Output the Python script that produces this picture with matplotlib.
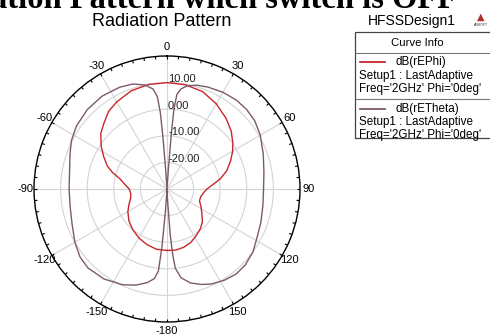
import numpy as np
import matplotlib
matplotlib.use("Agg")
import matplotlib.pyplot as plt
from matplotlib.transforms import offset_copy
from matplotlib.patches import Rectangle
from matplotlib.lines import Line2D

# ---------------- data ----------------
phi_theta_deg = [-180, -170, -160, -150, -140, -130, -120, -112, -105, -98, -90, -83, -78,
                 -73, -69, -63, -57, -50, -44, -37, -30, -20, -10, 0, 10, 20, 30, 40, 48,
                 55, 60, 66, 73, 79, 84, 90, 96, 103, 110, 118, 125, 133, 140, 148, 156,
                 164, 172, 180]
db_rEPhi = [-6.9, -7.0, -7.8, -8.8, -10.0, -11.3, -13.0, -14.6, -15.8, -16.3, -15.8, -13.8, -12.0,
            -8.5, -6.0, -3.3, -0.5, 2.5, 4.2, 6.5, 7.8, 9.3, 9.9, 10.0, 9.8, 9.0, 7.0, 4.6, 2.5,
            0.2, -1.5, -3.8, -6.5, -9.5, -12.4, -15.0, -16.2, -17.0, -17.0, -15.5, -14.0, -11.8, -10.5, -9.3, -8.0,
            -7.2, -6.8, -6.9]

theta_theta_deg = [-180, -177, -176, -175, -174, -172, -168, -162, -155, -145, -135, -128, -120,
                   -110, -100, -90, -80, -70, -63, -55, -45, -35, -25, -18, -12, -8, -6, -5,
                   -4.5, -4, -3, 0, 3, 4, 4.5, 5, 6, 8, 11, 16, 22, 30, 38, 45, 52, 60, 70,
                   80, 90, 100, 110, 118, 126, 134, 141, 148, 155, 160, 166, 171, 174, 175,
                   176, 177, 178, 180]
db_rETheta = [-40, -40, -22, -8, 1, 4, 6, 8, 9.7, 11.3, 12.0, 11.5, 10.0,
              8.0, 7.0, 6.8, 7.2, 8.8, 10.3, 11.5, 12.3, 12.6, 12.2, 11.5, 10.0, 8.0, 5.0, -1.0,
              -10, -22, -40, -40, -40, -22, -8, 0.5, 5.8, 8.0, 9.5, 10.6, 11.3, 12.0, 12.4, 12.3, 11.8, 10.5, 8.5,
              7.0, 6.3, 6.6, 7.5, 8.4, 10.0, 11.0, 11.2, 10.5, 9.4, 8.2, 6.4, 3.8, 0.0, -5,
              -13, -25, -40, -40]

r_ticks = [-20, -10, 0, 10]
r_tick_labels = ["-20.00", "-10.00", "0.00", "10.00"]
angle_ticks = [0, 30, 60, 90, 120, 150, 180, -150, -120, -90, -60, -30]
angle_labels = ["0", "30", "60", "90", "120", "150", "-180", "-150", "-120", "-90", "-60", "-30"]
r_min, r_max = -30, 20

legend_series = ["dB(rEPhi)", "dB(rETheta)"]
legend_setup = "Setup1 : LastAdaptive"
legend_freq = "Freq='2GHz' Phi='0deg'"

# ---------------- styling ----------------
plt.rcParams['font.family'] = ['Liberation Sans', 'DejaVu Sans']
RED = '#c8252c'
PURPLE = '#7d5a6a'
GRID = '#d4d4d4'

W, H = 490, 336
fig = plt.figure(figsize=(W / 100, H / 100), dpi=100)
cx, cy, R = 167, 189, 133
ax = fig.add_axes([(cx - R) / W, (H - cy - R) / H, 2 * R / W, 2 * R / H], projection='polar')
ax.set_theta_zero_location('N')
ax.set_theta_direction(-1)
ax.set_rlim(r_min, r_max)
ax.set_rgrids(r_ticks, labels=[''] * len(r_ticks))
ax.set_thetagrids(np.arange(0, 360, 30), labels=[''] * 12)
ax.grid(True, color=GRID, lw=0.8)
ax.spines['polar'].set_color('black')
ax.spines['polar'].set_linewidth(1.0)
ax.tick_params(length=0)

# ring ticks every 5 degrees
ring = np.deg2rad(np.arange(0, 360, 5))
ax.vlines(ring, r_max - 1.1, r_max, color='black', lw=0.8)

# curves
ax.plot(np.deg2rad(phi_theta_deg), np.clip(db_rEPhi, r_min, None), color=RED, lw=1.0)
ax.plot(np.deg2rad(theta_theta_deg), np.clip(db_rETheta, r_min, None), color=PURPLE, lw=1.0)

# angle labels
for a, lab in zip(angle_ticks, angle_labels):
    ax.text(np.deg2rad(a), 23.2, lab, ha='center', va='center', fontsize=8, clip_on=False)

# radial labels
tr = offset_copy(ax.transData, fig=fig, x=1, y=3.5, units='dots')
for v, lab in zip(r_ticks, r_tick_labels):
    ax.text(0, v, lab, transform=tr, ha='left', va='center', fontsize=8, color='#222222')

# titles
fig.text(457 / W, 1 - 8 / H, "Radiation Pattern when switch is OFF", ha='right', va='baseline',
         fontsize=23.5, fontweight='bold', family=['Liberation Serif', 'DejaVu Serif'])
fig.text(161.5 / W, 1 - 21.5 / H, "Radiation Pattern", ha='center', va='center', fontsize=13)
fig.text(412 / W, 1 - 21.5 / H, "HFSSDesign1", ha='center', va='center', fontsize=10)
fig.text(481 / W, 1 - 17 / H, "\u25B2", ha='center', va='center', fontsize=7, color='#b03030',
         family=['DejaVu Sans'])
fig.text(481 / W, 1 - 25 / H, "ANSOFT", ha='center', va='center', fontsize=2.5, color='#333333')

# legend box (Curve Info)
def fx(x):
    return x / W

def fy(y):
    return 1 - y / H

box_l, box_t, box_b = 355, 32, 138
fig.add_artist(Rectangle((fx(box_l), fy(box_b)), fx(500 - box_l), (box_b - box_t) / H,
                         transform=fig.transFigure, fill=False, edgecolor='#444444', lw=0.9))
for yy in (53, 99.5):
    fig.add_artist(Line2D([fx(box_l), fx(500)], [fy(yy), fy(yy)], transform=fig.transFigure,
                          color='#777777', lw=0.8))
fig.text(fx(417), fy(43), "Curve Info", ha='center', va='center', fontsize=8.2)
colors = [RED, PURPLE]
for i, (name, col) in enumerate(zip(legend_series, colors)):
    y0 = 62 + i * 46.5
    fig.add_artist(Line2D([fx(360), fx(385)], [fy(y0), fy(y0)], transform=fig.transFigure,
                          color=col, lw=1.3))
    fig.text(fx(395), fy(y0), name, ha='left', va='center', fontsize=8.4)
    fig.text(fx(359), fy(y0 + 13.5), legend_setup, ha='left', va='center', fontsize=8.4)
    fig.text(fx(359), fy(y0 + 26.5), legend_freq, ha='left', va='center', fontsize=8.4)

fig.savefig('out.png', dpi=100)
